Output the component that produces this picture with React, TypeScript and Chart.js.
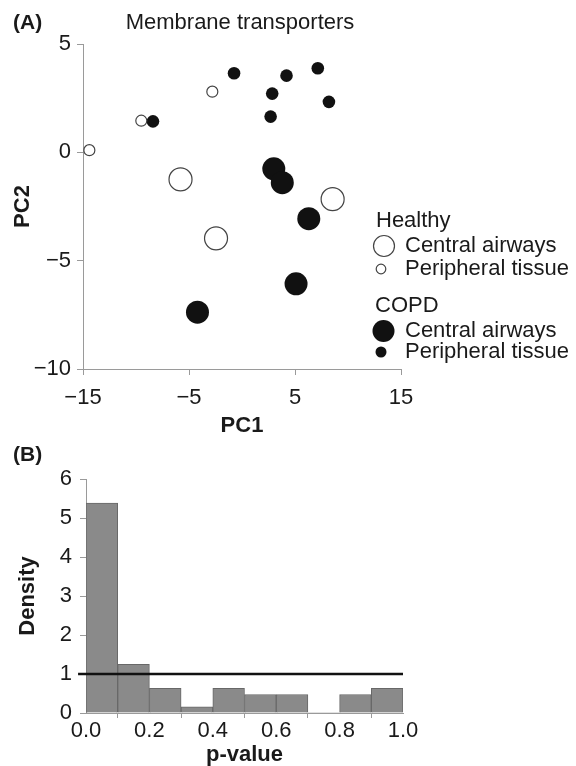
import React, { useEffect, useRef } from 'react';
import { Chart, registerables } from 'chart.js';
Chart.register(...registerables);

const FONT = '"Liberation Sans", Arial, Helvetica, sans-serif';
const TEXT = '#1a1a1a';
const AXIS = '#9a9a9a';

// Panel A: PCA scores
const healthyCentral = [
  { x: -5.8, y: -1.25 },
  { x: -2.45, y: -3.97 },
  { x: 8.55, y: -2.16 },
];
const healthyPeripheral = [
  { x: -14.4, y: 0.1 },
  { x: -9.5, y: 1.46 },
  { x: -2.8, y: 2.8 },
];
const copdCentral = [
  { x: 3.0, y: -0.76 },
  { x: 3.8, y: -1.4 },
  { x: 6.3, y: -3.06 },
  { x: 5.1, y: -6.07 },
  { x: -4.2, y: -7.38 },
];
const copdPeripheral = [
  { x: -8.4, y: 1.43 },
  { x: -0.75, y: 3.65 },
  { x: 2.85, y: 2.71 },
  { x: 4.2, y: 3.54 },
  { x: 7.15, y: 3.88 },
  { x: 8.2, y: 2.33 },
  { x: 2.7, y: 1.65 },
];
const pcXTicks = [-15, -5, 5, 15];
const pcYTicks = [-10, -5, 0, 5];

// Panel B: p-value histogram
const binStarts = [0, 0.1, 0.2, 0.3, 0.4, 0.5, 0.6, 0.7, 0.8, 0.9];
const binWidth = 0.1;
const densities = [5.38, 1.25, 0.63, 0.16, 0.63, 0.475, 0.475, 0, 0.475, 0.63];
const uniformLine = [
  { x: -0.025, y: 1 },
  { x: 1.0, y: 1 },
];
const pTicks = [0, 0.2, 0.4, 0.6, 0.8, 1.0];
const densityTicks = [0, 1, 2, 3, 4, 5, 6];

const minus = (v: number | string) => String(v).replace('-', '\u2212');

function circle(ctx: CanvasRenderingContext2D, x: number, y: number, r: number, filled: boolean) {
  ctx.beginPath();
  ctx.arc(x, y, r, 0, Math.PI * 2);
  if (filled) {
    ctx.fillStyle = '#111';
    ctx.fill();
  } else {
    ctx.fillStyle = '#fff';
    ctx.fill();
    ctx.lineWidth = 1.2;
    ctx.strokeStyle = '#444';
    ctx.stroke();
  }
}

export default function App() {
  const refA = useRef<HTMLCanvasElement>(null);
  const refB = useRef<HTMLCanvasElement>(null);

  useEffect(() => {
    const decoA = {
      id: 'decoA',
      afterDraw(chart: any) {
        const ctx = chart.ctx as CanvasRenderingContext2D;
        ctx.save();
        ctx.textBaseline = 'middle';
        ctx.fillStyle = TEXT;
        ctx.font = `bold 21px ${FONT}`;
        ctx.textAlign = 'left';
        ctx.fillText('(A)', 13, 23);
        ctx.font = `22px ${FONT}`;
        ctx.textAlign = 'center';
        ctx.fillText('Membrane transporters', 240, 23);
        // legend
        ctx.textAlign = 'left';
        ctx.fillStyle = TEXT;
        ctx.fillText('Healthy', 376, 221);
        circle(ctx, 384, 246, 10.5, false);
        ctx.fillStyle = TEXT;
        ctx.fillText('Central airways', 405, 246);
        circle(ctx, 381, 269, 4.8, false);
        ctx.fillStyle = TEXT;
        ctx.fillText('Peripheral tissue', 405, 269);
        ctx.fillText('COPD', 375, 306);
        circle(ctx, 383.5, 331, 11, true);
        ctx.fillStyle = TEXT;
        ctx.fillText('Central airways', 405, 331);
        circle(ctx, 381, 352, 5.5, true);
        ctx.fillStyle = TEXT;
        ctx.fillText('Peripheral tissue', 405, 352);
        ctx.restore();
      },
    };

    const openStyle = { backgroundColor: '#fff', borderColor: '#444', borderWidth: 1.2 };
    const fillStyle = { backgroundColor: '#111', borderColor: '#111', borderWidth: 0 };

    const chartA = new Chart(refA.current!, {
      type: 'scatter',
      data: {
        datasets: [
          { label: 'Healthy central', data: healthyCentral, pointRadius: 11.5, pointHoverRadius: 11.5, ...openStyle },
          { label: 'Healthy peripheral', data: healthyPeripheral, pointRadius: 5.5, pointHoverRadius: 5.5, ...openStyle },
          { label: 'COPD central', data: copdCentral, pointRadius: 11.5, pointHoverRadius: 11.5, ...fillStyle },
          { label: 'COPD peripheral', data: copdPeripheral, pointRadius: 6.3, pointHoverRadius: 6.3, ...fillStyle },
        ] as any,
      },
      options: {
        animation: false,
        responsive: false,
        devicePixelRatio: 1,
        events: [],
        layout: { padding: { left: 0, top: 44, right: 175, bottom: 0 } },
        plugins: { legend: { display: false }, tooltip: { enabled: false } },
        scales: {
          x: {
            type: 'linear',
            min: -15,
            max: 15,
            afterBuildTicks: (s: any) => { s.ticks = pcXTicks.map((v) => ({ value: v })); },
            afterFit: (s: any) => { s.height = 71; },
            grid: { display: true, drawOnChartArea: false, drawTicks: true, tickLength: 6, color: AXIS, lineWidth: 1 },
            border: { display: true, color: AXIS, width: 1 },
            ticks: { color: TEXT, font: { family: FONT, size: 22 }, padding: 10, maxRotation: 0, callback: (v: any) => minus(v) },
            title: { display: true, text: 'PC1', color: TEXT, font: { family: FONT, size: 22, weight: 'bold' }, padding: { top: 0, bottom: 1 } },
          },
          y: {
            type: 'linear',
            min: -10,
            max: 5,
            afterBuildTicks: (s: any) => { s.ticks = pcYTicks.map((v) => ({ value: v })); },
            afterFit: (s: any) => { s.width = 83; },
            grid: { display: true, drawOnChartArea: false, drawTicks: true, tickLength: 6, color: AXIS, lineWidth: 1 },
            border: { display: true, color: AXIS, width: 1 },
            ticks: { color: TEXT, font: { family: FONT, size: 22 }, padding: 6, callback: (v: any) => minus(v) },
            title: { display: true, text: 'PC2', color: TEXT, font: { family: FONT, size: 22, weight: 'bold' }, padding: { top: 10, bottom: 0 } },
          },
        },
      } as any,
      plugins: [decoA],
    });

    const decoB = {
      id: 'decoB',
      afterDraw(chart: any) {
        const ctx = chart.ctx as CanvasRenderingContext2D;
        ctx.save();
        ctx.textBaseline = 'middle';
        ctx.fillStyle = TEXT;
        ctx.font = `bold 21px ${FONT}`;
        ctx.textAlign = 'left';
        ctx.fillText('(B)', 13, 15);
        ctx.restore();
      },
    };

    const chartB = new Chart(refB.current!, {
      type: 'bar',
      data: {
        datasets: [
          {
            type: 'line',
            data: uniformLine,
            borderColor: '#111',
            borderWidth: 2.5,
            pointRadius: 0,
            clip: false,
            order: 0,
          },
          {
            type: 'bar',
            data: binStarts.map((b, i) => ({ x: b + binWidth / 2, y: densities[i] })),
            backgroundColor: '#8a8a8a',
            borderColor: '#686868',
            borderWidth: (c: any) => (c.raw && c.raw.y > 0 ? 1 : 0),
            borderSkipped: 'bottom',
            barPercentage: 1,
            categoryPercentage: 1,
            order: 1,
          },
        ] as any,
      },
      options: {
        animation: false,
        responsive: false,
        devicePixelRatio: 1,
        events: [],
        layout: { padding: { left: 0, top: 39, right: 173, bottom: 0 } },
        plugins: { legend: { display: false }, tooltip: { enabled: false } },
        scales: {
          x: {
            type: 'linear',
            min: 0,
            max: 1,
            offset: false,
            afterBuildTicks: (s: any) => { s.ticks = pTicks.map((v) => ({ value: v })); },
            afterFit: (s: any) => { s.height = 53; },
            grid: { display: true, drawOnChartArea: false, drawTicks: true, tickLength: 5, color: AXIS, lineWidth: 1 },
            border: { display: true, color: AXIS, width: 1 },
            ticks: { color: TEXT, font: { family: FONT, size: 22 }, padding: 0, maxRotation: 0, callback: (v: any) => Number(v).toFixed(1) },
            title: { display: true, text: 'p-value', color: TEXT, font: { family: FONT, size: 22, weight: 'bold', lineHeight: 1.0 }, padding: { top: 0, bottom: 0 } },
          },
          y: {
            type: 'linear',
            min: 0,
            max: 6,
            afterBuildTicks: (s: any) => { s.ticks = densityTicks.map((v) => ({ value: v })); },
            afterFit: (s: any) => { s.width = 86; },
            grid: { display: true, drawOnChartArea: false, drawTicks: true, tickLength: 6, color: AXIS, lineWidth: 1 },
            border: { display: true, color: AXIS, width: 1 },
            ticks: { color: TEXT, font: { family: FONT, size: 22 }, padding: 8 },
            title: { display: true, text: 'Density', color: TEXT, font: { family: FONT, size: 22, weight: 'bold' }, padding: { top: 15, bottom: 0 } },
          },
        },
      } as any,
      plugins: [decoB],
    });

    return () => {
      chartA.destroy();
      chartB.destroy();
    };
  }, []);

  return (
    <div style={{ position: 'fixed', left: 0, top: 0, width: 576, height: 766, background: '#fff', overflow: 'hidden' }}>
      <canvas ref={refA} width={576} height={440} style={{ position: 'absolute', left: 0, top: 0, width: 576, height: 440 }} />
      <canvas ref={refB} width={576} height={326} style={{ position: 'absolute', left: 0, top: 440, width: 576, height: 326 }} />
    </div>
  );
}
